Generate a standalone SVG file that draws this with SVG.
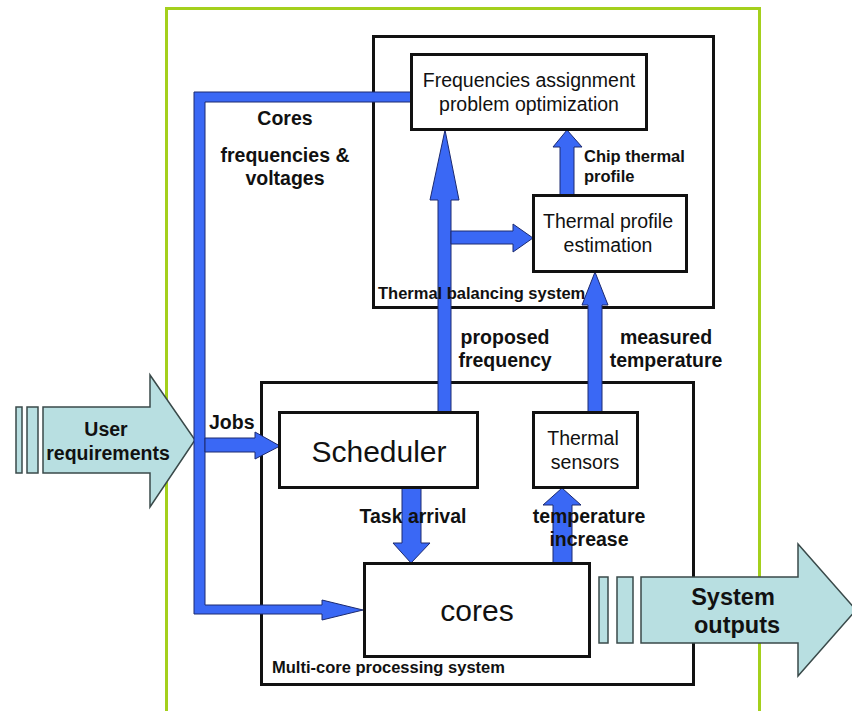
<svg xmlns="http://www.w3.org/2000/svg" width="852" height="711" viewBox="0 0 852 711">
  <style>
    .frame { fill: none; stroke: #a4d01c; stroke-width: 3; }
    .box { fill: #ffffff; stroke: #111111; stroke-width: 3; }
    .sys { fill: none; stroke: #111111; stroke-width: 3; }
    .flow { fill: #3a68f5; stroke: #1c2a70; stroke-width: 1; stroke-linejoin: miter; }
    .io { fill: #b8dfe1; stroke: #3a4a4a; stroke-width: 1.5; }
    text { font-family: "Liberation Sans", Arial, sans-serif; fill: #111111; }
    .b { font-weight: bold; }
    .mid { text-anchor: middle; }
    .lbl { font-size: 19.5px; }
    .small { font-size: 16.5px; }
  </style>

  <!-- outer boundary -->
  <rect class="frame" x="166.5" y="8.5" width="593" height="720"/>

  <!-- subsystem enclosures -->
  <g id="thermal-balancing-system">
    <rect class="sys" x="373.5" y="36.5" width="340" height="271"/>
  </g>
  <g id="multi-core-processing-system">
    <rect class="sys" x="261.5" y="382.5" width="432" height="302"/>
    <text class="b small" x="272" y="673">Multi-core processing system</text>
  </g>

  <!-- input / output arrows -->
  <g id="user-requirements">
    <rect class="io" x="16" y="407" width="6" height="66"/>
    <rect class="io" x="27" y="407" width="11" height="66"/>
    <polygon class="io" points="43,407 150,407 150,375 195,440 150,507 150,473 43,473"/>
    <text class="b mid lbl" x="106" y="436">User</text>
    <text class="b mid lbl" x="108" y="460">requirements</text>
  </g>
  <g id="system-outputs">
    <rect class="io" x="599" y="577" width="9" height="66"/>
    <rect class="io" x="617" y="577" width="16" height="66"/>
    <polygon class="io" points="641,577 798,577 798,544 856,610 798,676 798,643 641,643"/>
    <text class="b mid" x="733" y="605" font-size="23.5">System</text>
    <text class="b mid" x="737" y="633" font-size="23.5">outputs</text>
  </g>

  <!-- connectors -->
  <g id="connectors">
    <!-- frequency/voltage bus from optimizer down to cores -->
    <polygon class="flow" points="194,92 411,92 411,102 205,102 205,605 322,605 322,600 363,610 322,620 322,614 194,614"/>
    <!-- jobs into scheduler -->
    <polygon class="flow" points="205,438 255,438 255,432 280,446 255,459 255,452 205,452"/>
    <!-- proposed frequency -->
    <polygon class="flow" points="438,412 438,200 430,200 445,130 459,200 451,200 451,412"/>
    <!-- branch to thermal profile estimation -->
    <polygon class="flow" points="451,231 513,231 513,224 533,238 513,252 513,244 451,244"/>
    <!-- chip thermal profile -->
    <polygon class="flow" points="560,195 560,147 553,147 567,130 582,147 574,147 574,195"/>
    <!-- measured temperature -->
    <polygon class="flow" points="588,412 588,305 582,305 595,272 608,305 602,305 602,412"/>
    <!-- task arrival -->
    <polygon class="flow" points="402,488 421,488 421,543 430,543 411,563 393,543 402,543"/>
    <!-- temperature increase -->
    <polygon class="flow" points="553,563 553,505 543,505 562,488 581,505 572,505 572,563"/>
  </g>

  <!-- enclosure caption drawn over the flows -->
  <text class="b small" x="378" y="299">Thermal balancing system</text>

  <!-- connector labels -->
  <g id="connector-labels">
    <text class="b mid lbl" x="285" y="125">Cores</text>
    <text class="b mid lbl" x="285" y="162">frequencies &amp;</text>
    <text class="b mid lbl" x="285" y="185">voltages</text>
    <text class="b small" x="584" y="162">Chip thermal</text>
    <text class="b small" x="584" y="182">profile</text>
    <text class="b mid lbl" x="505" y="344">proposed</text>
    <text class="b mid lbl" x="505" y="367">frequency</text>
    <text class="b mid lbl" x="666" y="344">measured</text>
    <text class="b mid lbl" x="666" y="367">temperature</text>
    <text class="b lbl" x="209" y="429">Jobs</text>
    <text class="b mid lbl" x="413" y="523">Task arrival</text>
    <text class="b mid lbl" x="589" y="523">temperature</text>
    <text class="b mid lbl" x="589" y="546">increase</text>
  </g>

  <!-- nodes -->
  <g id="frequencies-optimization">
    <rect class="box" x="411.5" y="54.5" width="235" height="75"/>
    <text class="mid lbl" x="529" y="87">Frequencies assignment</text>
    <text class="mid lbl" x="529" y="111">problem optimization</text>
  </g>
  <g id="thermal-profile-estimation">
    <rect class="box" x="533.5" y="195.5" width="153" height="76"/>
    <text class="mid lbl" x="608" y="228">Thermal profile</text>
    <text class="mid lbl" x="608" y="252">estimation</text>
  </g>
  <g id="scheduler">
    <rect class="box" x="279.5" y="412.5" width="198" height="75"/>
    <text class="mid" x="379" y="462" font-size="30">Scheduler</text>
  </g>
  <g id="thermal-sensors">
    <rect class="box" x="533.5" y="412.5" width="104" height="75"/>
    <text class="mid lbl" x="583" y="445">Thermal</text>
    <text class="mid lbl" x="585" y="469">sensors</text>
  </g>
  <g id="cores">
    <rect class="box" x="364.5" y="563.5" width="225" height="93"/>
    <text class="mid" x="477" y="621" font-size="30">cores</text>
  </g>
</svg>
